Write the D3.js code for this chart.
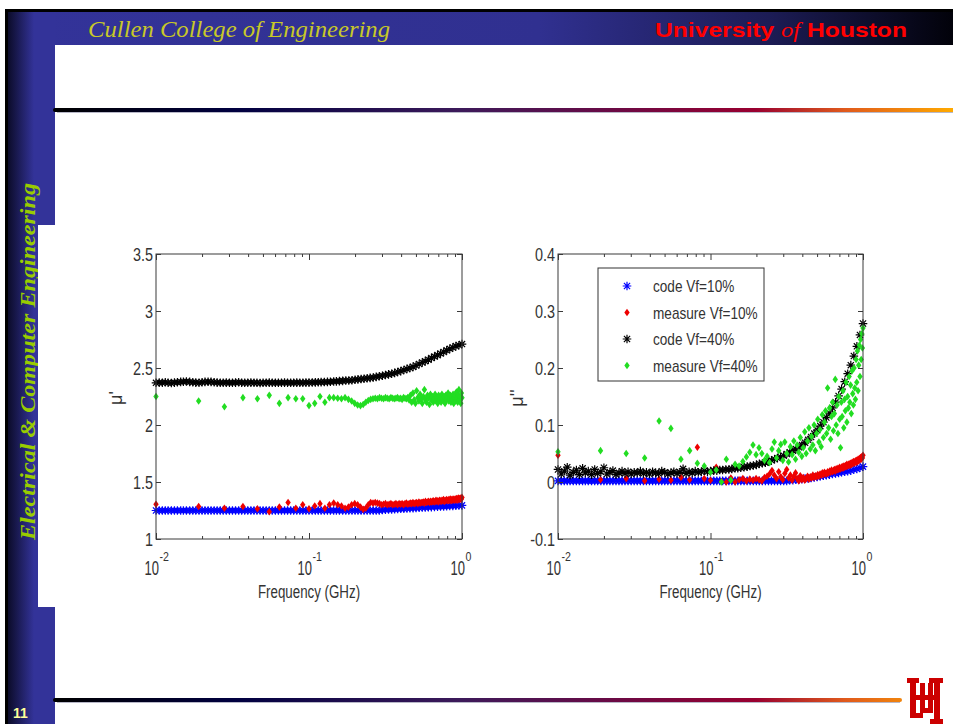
<!DOCTYPE html>
<html>
<head>
<meta charset="utf-8">
<script src="https://cdn.jsdelivr.net/npm/d3@7"></script>
<style>
  body { margin: 0; background: #fff; }
  svg { display: block; }
  .tick text { font-family: "Liberation Sans", Arial, sans-serif; font-size: 18px; fill: #333; }
  .tick line { stroke: #3a3a3a; }
</style>
</head>
<body>
<div id="slide"></div>
<script>
// frequencies (GHz) of the computed curves
var codeFreq = [0.0100,0.0105,0.0110,0.0115,0.0120,0.0126,0.0132,0.0138,0.0145,0.0151,
  0.0158,0.0166,0.0174,0.0182,0.0191,0.0200,0.0209,0.0219,0.0229,0.0240,
  0.0251,0.0263,0.0275,0.0288,0.0302,0.0316,0.0331,0.0347,0.0363,0.0380,
  0.0398,0.0417,0.0437,0.0457,0.0479,0.0501,0.0525,0.0550,0.0575,0.0603,
  0.0631,0.0661,0.0692,0.0724,0.0759,0.0794,0.0832,0.0871,0.0912,0.0955,
  0.100,0.105,0.110,0.115,0.120,0.126,0.132,0.138,0.145,0.151,
  0.158,0.166,0.174,0.182,0.191,0.200,0.209,0.219,0.229,0.240,
  0.251,0.263,0.275,0.288,0.302,0.316,0.331,0.347,0.363,0.380,
  0.398,0.417,0.437,0.457,0.479,0.501,0.525,0.550,0.575,0.603,
  0.631,0.661,0.692,0.724,0.759,0.794,0.832,0.871,0.912,0.955,1.000];

// frequencies (MHz) of the measured points
var measFreqMHz = [10,19,28,37,46,55,64,73,82,91,
  100,109,118,127,136,145,154,163,172,181,
  190,199,208,217,226,235,244,253,262,271,
  280,289,298,307,316,325,334,343,352,361,
  370,379,388,397,406,415,424,433,442,451,
  460,469,478,487,496,505,514,523,532,541,
  550,559,568,577,586,595,604,613,622,631,
  640,649,658,667,676,685,694,703,712,721,
  730,739,748,757,766,775,784,793,802,811,
  820,829,838,847,856,865,874,883,892,901,
  910,919,928,937,946,955,964,973,982,991,1000];

// mu' (real part)
var muCode10 = [1.25,1.25,1.25,1.25,1.25,1.25,1.25,1.25,1.25,1.25,
  1.25,1.25,1.25,1.25,1.25,1.25,1.25,1.25,1.25,1.25,
  1.25,1.25,1.25,1.25,1.25,1.25,1.25,1.25,1.25,1.25,
  1.25,1.25,1.25,1.25,1.25,1.25,1.25,1.25,1.25,1.25,
  1.25,1.25,1.25,1.25,1.25,1.25,1.25,1.25,1.25,1.25,
  1.25,1.25,1.25,1.25,1.25,1.25,1.25,1.25,1.25,1.25,
  1.25,1.25,1.25,1.25,1.25,1.25,1.25,1.25,1.25,1.25,
  1.25,1.25,1.25,1.25,1.255,1.257,1.259,1.26,1.262,1.263,
  1.265,1.266,1.268,1.27,1.271,1.273,1.274,1.276,1.277,1.279,
  1.28,1.282,1.283,1.285,1.286,1.288,1.289,1.291,1.292,1.294,1.295];
var muCode40 = [2.37,2.372,2.37,2.375,2.37,2.368,2.372,2.375,2.378,2.38,
  2.382,2.378,2.375,2.372,2.37,2.375,2.378,2.38,2.378,2.375,
  2.372,2.37,2.37,2.372,2.37,2.37,2.372,2.375,2.37,2.37,
  2.37,2.372,2.37,2.37,2.368,2.37,2.37,2.372,2.37,2.37,
  2.37,2.37,2.372,2.37,2.37,2.37,2.372,2.37,2.37,2.372,
  2.372,2.373,2.374,2.375,2.376,2.377,2.378,2.38,2.381,2.383,
  2.385,2.387,2.39,2.39,2.393,2.397,2.40,2.403,2.406,2.41,
  2.413,2.417,2.422,2.427,2.432,2.438,2.444,2.45,2.457,2.465,
  2.473,2.482,2.492,2.50,2.51,2.522,2.535,2.548,2.56,2.573,
  2.587,2.60,2.613,2.627,2.64,2.655,2.668,2.68,2.692,2.70,2.71];
var muMeas10 = [1.305,1.285,1.27,1.285,1.265,1.24,1.28,1.32,1.27,1.30,
  1.265,1.29,1.31,1.27,1.30,1.315,1.30,1.29,1.27,1.28,
  1.30,1.31,1.30,1.28,1.26,1.27,1.30,1.32,1.315,1.32,
  1.315,1.31,1.30,1.305,1.31,1.30,1.305,1.31,1.30,1.305,
  1.31,1.30,1.31,1.305,1.31,1.30,1.31,1.315,1.305,1.31,
  1.315,1.31,1.32,1.31,1.315,1.32,1.31,1.325,1.315,1.32,
  1.32,1.325,1.315,1.33,1.32,1.325,1.33,1.32,1.33,1.325,
  1.33,1.335,1.325,1.33,1.34,1.33,1.335,1.325,1.34,1.335,
  1.33,1.34,1.335,1.345,1.33,1.34,1.335,1.345,1.34,1.335,
  1.345,1.34,1.35,1.335,1.345,1.34,1.35,1.345,1.34,1.35,
  1.345,1.355,1.34,1.35,1.36,1.345,1.355,1.35,1.36,1.35,1.365];
var muMeas40 = [2.25,2.21,2.16,2.24,2.23,2.26,2.19,2.24,2.23,2.23,
  2.17,2.19,2.25,2.20,2.24,2.24,2.235,2.23,2.24,2.225,
  2.21,2.19,2.175,2.17,2.18,2.20,2.215,2.225,2.23,2.235,
  2.23,2.24,2.235,2.23,2.24,2.235,2.23,2.24,2.235,2.23,
  2.235,2.24,2.23,2.235,2.225,2.24,2.235,2.23,2.24,2.22,
  2.26,2.20,2.28,2.22,2.19,2.30,2.24,2.21,2.27,2.23,
  2.19,2.25,2.31,2.22,2.20,2.26,2.24,2.18,2.27,2.22,
  2.25,2.20,2.23,2.27,2.21,2.24,2.19,2.26,2.22,2.25,
  2.20,2.27,2.23,2.21,2.25,2.19,2.26,2.22,2.24,2.28,
  2.21,2.23,2.26,2.20,2.25,2.22,2.27,2.19,2.24,2.26,
  2.21,2.29,2.23,2.20,2.26,2.31,2.22,2.25,2.19,2.28,2.24];

// mu'' (imaginary part)
var muppCode10 = [0.002,0.002,0.002,0.002,0.002,0.002,0.002,0.002,0.002,0.002,
  0.002,0.002,0.002,0.002,0.002,0.002,0.002,0.002,0.002,0.002,
  0.002,0.002,0.002,0.002,0.002,0.002,0.002,0.002,0.002,0.002,
  0.002,0.002,0.002,0.002,0.002,0.002,0.002,0.002,0.002,0.002,
  0.002,0.002,0.002,0.002,0.002,0.002,0.002,0.002,0.002,0.002,
  0.002,0.002,0.002,0.002,0.002,0.002,0.002,0.002,0.002,0.002,
  0.002,0.002,0.002,0.002,0.002,0.002,0.002,0.002,0.002,0.002,
  0.002,0.002,0.002,0.002,0.002,0.002,0.003,0.003,0.004,0.004,
  0.005,0.006,0.006,0.007,0.008,0.009,0.010,0.011,0.012,0.013,
  0.014,0.015,0.016,0.017,0.018,0.019,0.020,0.022,0.023,0.025,0.027];
var muppCode40 = [0.022,0.014,0.019,0.026,0.012,0.017,0.021,0.013,0.024,0.016,
  0.019,0.013,0.022,0.015,0.018,0.025,0.014,0.017,0.020,0.013,
  0.016,0.019,0.015,0.018,0.014,0.017,0.016,0.019,0.015,0.017,
  0.014,0.018,0.016,0.015,0.019,0.017,0.014,0.016,0.018,0.015,
  0.017,0.023,0.015,0.018,0.016,0.019,0.017,0.018,0.020,0.018,
  0.019,0.020,0.020,0.021,0.021,0.022,0.022,0.023,0.024,0.024,
  0.025,0.026,0.027,0.028,0.029,0.030,0.032,0.033,0.034,0.036,
  0.038,0.040,0.042,0.044,0.046,0.049,0.052,0.055,0.058,0.061,
  0.065,0.069,0.074,0.079,0.085,0.091,0.098,0.105,0.113,0.121,
  0.130,0.140,0.151,0.163,0.176,0.190,0.205,0.221,0.238,0.258,0.278];
var muppMeas10 = [0.047,0.004,0.006,0.002,0.005,0.003,0.008,0.004,0.061,0.006,
  0.003,0.026,0.001,0.000,0.007,0.000,0.004,0.006,0.002,0.005,
  0.003,0.006,0.004,0.002,0.008,0.010,0.014,0.020,0.012,0.006,
  0.018,0.009,0.004,0.015,0.022,0.007,0.012,0.003,0.010,0.016,
  0.006,0.002,0.011,0.004,0.008,0.003,0.006,0.010,0.005,0.009,
  0.007,0.012,0.008,0.011,0.009,0.013,0.010,0.014,0.012,0.016,
  0.013,0.017,0.015,0.014,0.018,0.016,0.019,0.017,0.021,0.018,
  0.020,0.022,0.019,0.023,0.021,0.024,0.022,0.026,0.023,0.025,
  0.027,0.024,0.028,0.026,0.029,0.027,0.031,0.028,0.030,0.032,
  0.029,0.033,0.031,0.034,0.032,0.036,0.033,0.035,0.037,0.034,
  0.038,0.036,0.040,0.037,0.041,0.039,0.043,0.040,0.044,0.042,0.047];
var muppMeas40 = [0.053,0.055,0.050,0.042,0.107,0.094,0.040,0.055,0.033,0.028,
  0.017,0.021,0.000,0.040,0.003,0.031,0.028,0.036,0.044,0.052,
  0.065,0.048,0.060,0.050,0.038,0.045,0.034,0.058,0.070,0.042,
  0.055,0.066,0.038,0.070,0.050,0.035,0.062,0.048,0.072,0.040,
  0.065,0.052,0.078,0.045,0.060,0.088,0.050,0.072,0.095,0.058,
  0.080,0.065,0.100,0.055,0.085,0.110,0.070,0.092,0.062,0.118,
  0.078,0.105,0.125,0.085,0.165,0.095,0.130,0.075,0.115,0.140,
  0.090,0.120,0.180,0.100,0.135,0.085,0.150,0.110,0.060,0.140,
  0.115,0.160,0.095,0.145,0.125,0.175,0.105,0.150,0.130,0.185,
  0.140,0.170,0.120,0.195,0.155,0.135,0.200,0.165,0.145,0.215,
  0.175,0.230,0.160,0.205,0.240,0.185,0.250,0.215,0.260,0.235,0.270];

var seriesNames = ["code Vf=10%", "measure Vf=10%", "code Vf=40%", "measure Vf=40%"];
var seriesColors = ["#0000ff", "#ee0000", "#000000", "#22dd22"];
var seriesKinds = ["code", "meas", "code", "meas"];

var leftTicks = [1, 1.5, 2, 2.5, 3, 3.5];
var rightTicks = [-0.1, 0, 0.1, 0.2, 0.3, 0.4];
var xMajor = [0.01, 0.1, 1];
var xExp = ["-2", "-1", "0"];

var W = 953, H = 724;
var svg = d3.select("#slide").append("svg").attr("width", W).attr("height", H);
var defs = svg.append("defs");

function grad(id, stops, x1, x2) {
  var g = defs.append("linearGradient").attr("id", id)
    .attr("gradientUnits", "userSpaceOnUse")
    .attr("x1", x1).attr("x2", x2).attr("y1", 0).attr("y2", 0);
  stops.forEach(function(s) {
    g.append("stop").attr("offset", s[0]).attr("stop-color", s[1]);
  });
}
grad("hdr", [[0, "#333399"], [0.55, "#303090"], [0.8, "#1c1c55"], [1, "#02020a"]], 33, 953);
grad("side", [[0, "#0c0c2a"], [1, "#333399"]], 8, 34);
grad("rule", [[0, "#000000"], [0.2, "#000040"], [0.45, "#3c1a5a"], [0.62, "#6a0a45"], [0.78, "#990030"], [0.88, "#e05a1c"], [1, "#ffaa00"]], 55, 953);

// the plot picture is stretched tall: squeeze the rendered text horizontally
function squeeze(sel, k) {
  sel.each(function() {
    var w = this.getComputedTextLength();
    d3.select(this).attr("textLength", w * k).attr("lengthAdjust", "spacingAndGlyphs");
  });
}

// slide frame
svg.append("rect").attr("x", 33).attr("y", 12).attr("width", W - 33).attr("height", 33).attr("fill", "url(#hdr)");
svg.append("rect").attr("x", 8).attr("y", 12).attr("width", 47).attr("height", H - 12).attr("fill", "url(#side)");
svg.append("rect").attr("x", 5).attr("y", 9).attr("width", W - 5).attr("height", 3).attr("fill", "#000");
svg.append("rect").attr("x", 5).attr("y", 9).attr("width", 3).attr("height", H - 9).attr("fill", "#000");

svg.append("text").attr("x", 88).attr("y", 37)
  .attr("font-family", "Liberation Serif, serif").attr("font-style", "italic")
  .attr("font-size", 24).attr("fill", "#c8c828")
  .attr("textLength", 302).attr("lengthAdjust", "spacingAndGlyphs")
  .text("Cullen College of Engineering");

var uh = svg.append("text").attr("x", 655).attr("y", 37)
  .attr("font-family", "Liberation Sans, Arial, sans-serif").attr("font-weight", "bold")
  .attr("font-size", 21).attr("fill", "#ff0000")
  .attr("textLength", 252).attr("lengthAdjust", "spacingAndGlyphs");
uh.append("tspan").text("University ");
uh.append("tspan").attr("font-family", "Liberation Serif, serif").attr("font-style", "italic").attr("font-weight", "normal").text("of");
uh.append("tspan").text("  Houston");

svg.append("text")
  .attr("transform", "translate(35,540) rotate(-90)")
  .attr("font-family", "Liberation Serif, serif").attr("font-style", "italic").attr("font-weight", "bold")
  .attr("font-size", 20).attr("fill", "#99cc00")
  .attr("textLength", 357).attr("lengthAdjust", "spacingAndGlyphs")
  .text("Electrical & Computer Engineering");

// gradient rules
svg.append("line").attr("x1", 55).attr("x2", W).attr("y1", 110).attr("y2", 110)
  .attr("stroke", "url(#rule)").attr("stroke-width", 4).attr("stroke-linecap", "round");
svg.append("line").attr("x1", 57).attr("x2", W).attr("y1", 112.5).attr("y2", 112.5)
  .attr("stroke", "#b8b8c8").attr("stroke-width", 1);
svg.append("line").attr("x1", 55).attr("x2", 900).attr("y1", 700).attr("y2", 700)
  .attr("stroke", "url(#rule)").attr("stroke-width", 4).attr("stroke-linecap", "round");
svg.append("line").attr("x1", 57).attr("x2", 900).attr("y1", 702.5).attr("y2", 702.5)
  .attr("stroke", "#b8b8c8").attr("stroke-width", 1);

svg.append("text").attr("x", 13).attr("y", 718)
  .attr("font-family", "Liberation Sans, Arial, sans-serif").attr("font-weight", "bold")
  .attr("font-size", 14).attr("fill", "#ffff99").text("11");

// UH logo
var logo = svg.append("g").attr("fill", "#cc0000");
[[907,678,12,5],[929,678,14,5],[910,678,6,40],[934,678,6,46],[916,695,18,5],
 [920,683,5,30],[928,683,5,30],[920,708,13,5],[913,713,10,5],[930,719,13,5]]
  .forEach(function(r) {
    logo.append("rect").attr("x", r[0]).attr("y", r[1]).attr("width", r[2]).attr("height", r[3]);
  });

// white picture area holding the two plots
svg.append("rect").attr("x", 38).attr("y", 225).attr("width", 840).attr("height", 382).attr("fill", "#fff");

var sans = "Liberation Sans, Arial, sans-serif";

function asterisk(s) {
  var a = s * 0.72;
  return "M" + (-s) + ",0H" + s + "M0," + (-s) + "V" + s +
    "M" + (-a) + "," + (-a) + "L" + a + "," + a + "M" + (-a) + "," + a + "L" + a + "," + (-a);
}
var diamond = "M0,-3.8L2.7,0L0,3.8L-2.7,0Z";

function drawMarks(g, x, y, freqs, vals, kind, color) {
  var pts = freqs.map(function(f, i) { return [f, vals[i]]; });
  var sel = g.append("g").selectAll("path").data(pts).enter().append("path")
    .attr("transform", function(d) { return "translate(" + x(d[0]) + "," + y(d[1]) + ")"; });
  if (kind == "code") {
    sel.attr("d", asterisk(4.3)).attr("fill", "none").attr("stroke", color).attr("stroke-width", 1.2);
  } else {
    sel.attr("d", diamond).attr("fill", color);
  }
}

function panel(cfg) {
  var x = d3.scaleLog().domain([0.01, 1]).range([cfg.x0, cfg.x1]);
  var y = d3.scaleLinear().domain(cfg.yDomain).range([539, 254]);
  var g = svg.append("g");

  var minor = [];
  [0.01, 0.1].forEach(function(d) {
    for (var k = 2; k <= 9; k++) minor.push(d * k);
  });

  var measF = measFreqMHz.map(function(m) { return m / 1000; });
  var sets = [[codeFreq, cfg.data[0]], [measF, cfg.data[1]], [codeFreq, cfg.data[2]], [measF, cfg.data[3]]];
  sets.forEach(function(s, i) {
    drawMarks(g, x, y, s[0], s[1], seriesKinds[i], seriesColors[i]);
  });

  // box + ticks, all pointing inwards
  g.append("rect").attr("x", cfg.x0).attr("y", 254).attr("width", cfg.x1 - cfg.x0).attr("height", 285)
    .attr("fill", "none").attr("stroke", "#3a3a3a").attr("stroke-width", 1);

  g.append("g").attr("transform", "translate(0,539)")
    .call(d3.axisBottom(x).tickValues(minor).tickSize(-3).tickSizeOuter(0).tickFormat(""))
    .call(function(a) { a.select(".domain").remove(); });
  g.append("g").attr("transform", "translate(0,539)")
    .call(d3.axisBottom(x).tickValues(xMajor).tickSize(-6).tickSizeOuter(0).tickFormat(""))
    .call(function(a) { a.select(".domain").remove(); });
  g.append("g").attr("transform", "translate(0,254)")
    .call(d3.axisTop(x).tickValues(minor).tickSize(-3).tickSizeOuter(0).tickFormat(""))
    .call(function(a) { a.select(".domain").remove(); });
  g.append("g").attr("transform", "translate(0,254)")
    .call(d3.axisTop(x).tickValues(xMajor).tickSize(-6).tickSizeOuter(0).tickFormat(""))
    .call(function(a) { a.select(".domain").remove(); });

  g.append("g").attr("transform", "translate(" + cfg.x0 + ",0)")
    .call(d3.axisLeft(y).tickValues(cfg.yTicks).tickSize(-5).tickSizeOuter(0).tickPadding(3)
      .tickFormat(function(d) { return String(Math.round(d * 10) / 10); }))
    .call(function(a) {
      a.select(".domain").remove();
      a.selectAll("text").attr("dy", "0.36em").call(squeeze, 0.8);
    });
  g.append("g").attr("transform", "translate(" + cfg.x1 + ",0)")
    .call(d3.axisRight(y).tickValues(cfg.yTicks).tickSize(-5).tickSizeOuter(0).tickFormat(""))
    .call(function(a) { a.select(".domain").remove(); });

  // 10^n labels: base and raised exponent, narrowed with a scale transform
  xMajor.forEach(function(v, i) {
    g.append("text").attr("transform", "translate(" + (x(v) + 3) + ",575) scale(0.65,1)")
      .attr("text-anchor", "end").attr("font-family", sans).attr("font-size", 20).attr("fill", "#333")
      .text("10");
    g.append("text").attr("transform", "translate(" + (x(v) + 3.5) + ",561) scale(0.85,1)")
      .attr("font-family", sans).attr("font-size", 12.5).attr("fill", "#333")
      .text(xExp[i]);
  });

  g.append("text").attr("x", (cfg.x0 + cfg.x1) / 2).attr("y", 598)
    .attr("text-anchor", "middle").attr("font-family", sans).attr("font-size", 18).attr("fill", "#333")
    .text("Frequency (GHz)").call(squeeze, 0.74);

  g.append("text").attr("transform", "translate(" + cfg.labelX + ",398) rotate(-90)")
    .attr("text-anchor", "middle").attr("font-family", sans).attr("font-size", 18).attr("fill", "#333")
    .text(cfg.ylabel);

  return { x: x, y: y, g: g };
}

panel({ x0: 156, x1: 462, yDomain: [1, 3.5], yTicks: leftTicks, ylabel: "\u03bc'", labelX: 122,
  data: [muCode10, muMeas10, muCode40, muMeas40] });
var right = panel({ x0: 558, x1: 863, yDomain: [-0.1, 0.4], yTicks: rightTicks, ylabel: "\u03bc''", labelX: 523,
  data: [muppCode10, muppMeas10, muppCode40, muppMeas40] });

// legend
var lg = right.g.append("g");
lg.append("rect").attr("x", 598).attr("y", 268).attr("width", 166).attr("height", 113)
  .attr("fill", "#fff").attr("stroke", "#333").attr("stroke-width", 1);
seriesNames.forEach(function(name, i) {
  var cy = 286 + i * 26.5;
  var m = lg.append("path").attr("transform", "translate(627," + cy + ")");
  if (seriesKinds[i] == "code") {
    m.attr("d", asterisk(4.3)).attr("fill", "none").attr("stroke", seriesColors[i]).attr("stroke-width", 1.2);
  } else {
    m.attr("d", diamond).attr("fill", seriesColors[i]);
  }
  lg.append("text").attr("x", 653).attr("y", cy + 6)
    .attr("font-family", sans).attr("font-size", 17).attr("fill", "#333").text(name)
    .call(squeeze, 0.8);
});
</script>
</body>
</html>
